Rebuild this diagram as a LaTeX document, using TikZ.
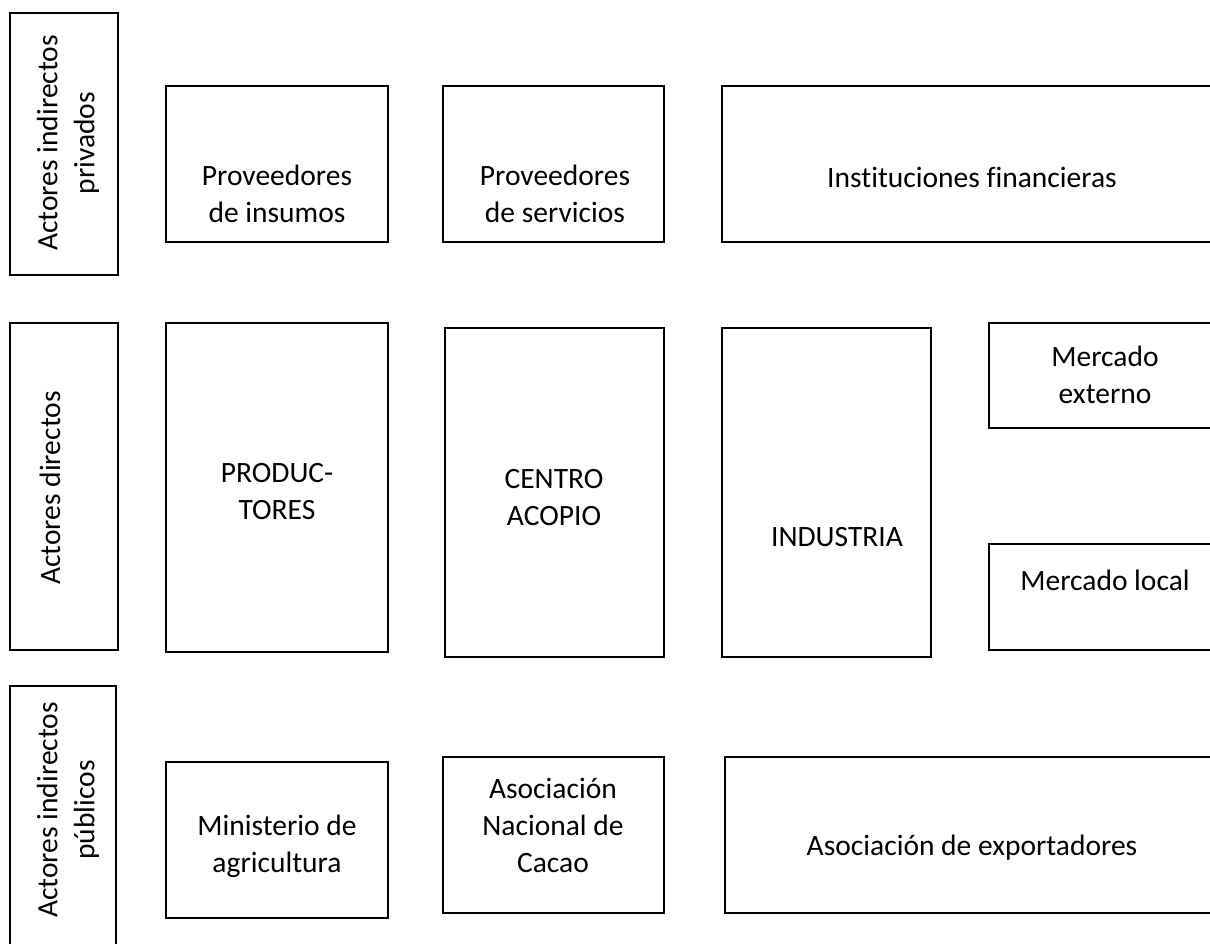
\documentclass[tikz,border=0pt]{standalone}
\usepackage{fontspec}
\setmainfont{Carlito}[Ligatures=NoCommon]
\begin{document}
\begin{tikzpicture}[x=1pt,y=-1pt]
  % Rahmen.
  \clip (0,0) rectangle (1210,944);
  \useasboundingbox (0,0) rectangle (1210,944);

  \tikzstyle{box}=[draw, line width=1.5pt]
  \tikzstyle{txt}=[align=center, inner sep=0pt, font=\fontsize{29.5}{37}\selectfont]
  \tikzstyle{side}=[txt, rotate=90]

  % Seitenkaesten.
  \draw[box] (10,13) rectangle (118,275);
  \draw[box] (10,323) rectangle (118,650);
  \draw[box] (10,686) rectangle (116,960);
  \node[side] (privados) at (68,143) {Actores indirectos\\privados};
  \node[side] (directos) at (50,488) {Actores directos};
  \node[side] (publicos) at (68,810) {Actores indirectos\\públicos};

  % Obere Reihe.
  \draw[box] (166,86) rectangle (388,242);
  \draw[box] (443,86) rectangle (664,242);
  \draw[box] (722,86) rectangle (1222,242);
  \node[txt] (insumos) at (277,194) {Proveedores\\de insumos};
  \node[txt] (servicios) at (555,194) {Proveedores\\de servicios};
  \node[txt] (financieras) at (972,177) {Instituciones financieras};

  % Mittlere Reihe.
  \draw[box] (166,323) rectangle (388,652);
  \draw[box] (445,328) rectangle (664,657);
  \draw[box] (722,328) rectangle (931,657);
  \draw[box] (989,323) rectangle (1222,428);
  \draw[box] (989,544) rectangle (1222,650);
  \node[txt] (productores) at (277,492) {PRODUC-\\TORES};
  \node[txt] (acopio) at (554,498) {CENTRO\\ACOPIO};
  \node[txt] (industria) at (837,537) {INDUSTRIA};
  \node[txt] (externo) at (1105,375) {Mercado\\externo};
  \node[txt] (local) at (1105,580) {Mercado local};

  % Untere Reihe.
  \draw[box] (166,762) rectangle (388,918);
  \draw[box] (443,757) rectangle (664,913);
  \draw[box] (725,757) rectangle (1222,913);
  \node[txt] (ministerio) at (277,846) {Ministerio de\\agricultura};
  \node[txt] (cacao) at (553,825) {Asociación\\Nacional de\\Cacao};
  \node[txt] (exportadores) at (972,848) {Asociación de exportadores};
\end{tikzpicture}
\end{document}
